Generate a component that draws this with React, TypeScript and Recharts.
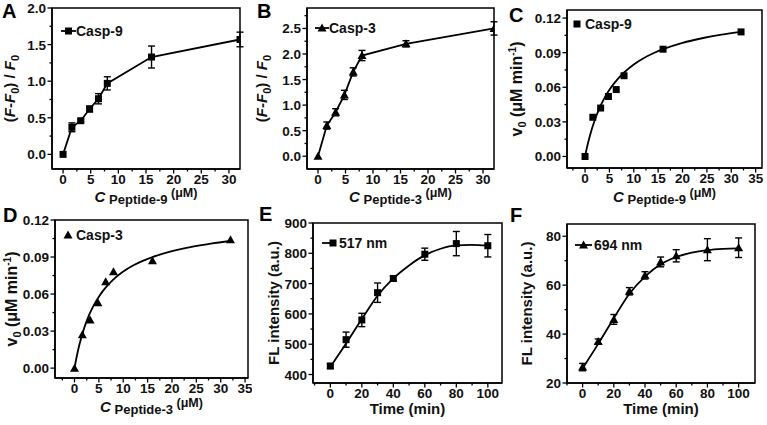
import React from 'react'
import { ComposedChart, Scatter, Line, XAxis, YAxis, ErrorBar, Label, ReferenceArea } from 'recharts'

// peptide concentrations (μM), shared by A-D
const conc = [0, 1.6, 3.2, 4.8, 6.4, 8, 16, 32]

// A: Casp-9 response
const ratio9 = [0, 0.37, 0.46, 0.62, 0.76, 0.97, 1.33, 1.57]
const ratio9Err = [0, 0.06, 0.02, 0.04, 0.07, 0.09, 0.15, 0.1]

// B: Casp-3 response
const ratio3 = [0, 0.6, 0.86, 1.2, 1.65, 1.97, 2.2, 2.5]
const ratio3Err = [0, 0.07, 0.07, 0.09, 0.08, 0.1, 0.06, 0.13]

// C / D: initial rates + fitted curves
const rate9 = [0, 0.034, 0.042, 0.052, 0.058, 0.07, 0.093, 0.108]
const rate3 = [0, 0.027, 0.039, 0.053, 0.07, 0.078, 0.087, 0.104]
const fitConc = [0, 0.5, 1, 2, 3, 4, 5, 6, 8, 10, 12, 14, 16, 20, 24, 28, 32]
const fit9 = [0, 0.0097, 0.018, 0.0316, 0.0422, 0.0508, 0.0578, 0.0636, 0.0728, 0.0798, 0.0852, 0.0895, 0.093, 0.0985, 0.1025, 0.1056, 0.108]
const fit3 = [0, 0.0102, 0.0189, 0.0326, 0.0431, 0.0513, 0.0579, 0.0634, 0.0719, 0.0782, 0.0831, 0.0869, 0.09, 0.0948, 0.0983, 0.1009, 0.103]

// E: 517 nm over time
const timeE = [0, 10, 20, 30, 40, 60, 80, 100]
const fl517 = [428, 515, 580, 670, 717, 797, 832, 825]
const fl517Err = [8, 25, 22, 32, 8, 20, 40, 37]
const fitTime = [0, 10, 20, 30, 40, 50, 60, 70, 80, 90, 100]
const fit517 = [425, 502, 583, 660, 717, 760, 794, 815, 826, 828, 825]

// F: 694 nm over time
const timeF = [0, 10, 20, 30, 40, 50, 60, 80, 100]
const fl694 = [26.5, 37, 46, 57.5, 64, 69.5, 72, 74.5, 75.3]
const fl694Err = [1.5, 1, 2, 1.5, 1.5, 2, 2.5, 4.5, 4]
const fit694 = [26, 36, 46.5, 56.5, 63.5, 68.5, 71.5, 73.3, 74.3, 74.8, 75]

// tick values
const concTicks = [0, 5, 10, 15, 20, 25, 30]
const concMinor = [2.5, 7.5, 12.5, 17.5, 22.5, 27.5]
const concTicks35 = [0, 5, 10, 15, 20, 25, 30, 35]
const concMinor35 = [-2.5, 2.5, 7.5, 12.5, 17.5, 22.5, 27.5, 32.5]
const ratioTicksA = [0, 0.5, 1, 1.5, 2]
const ratioMinorA = [0.25, 0.75, 1.25, 1.75]
const ratioTicksB = [0, 0.5, 1, 1.5, 2, 2.5]
const ratioMinorB = [0.25, 0.75, 1.25, 1.75, 2.25, 2.75]
const rateTicks = [0, 0.03, 0.06, 0.09, 0.12]
const rateMinor = [0.015, 0.045, 0.075, 0.105]
const timeTicks = [0, 20, 40, 60, 80, 100]
const timeMinor = [-10, 10, 30, 50, 70, 90]
const flTicksE = [400, 500, 600, 700, 800, 900]
const flMinorE = [450, 550, 650, 750, 850]
const flTicksF = [20, 40, 60, 80]
const flMinorF = [30, 50, 70]

const FONT = '"Liberation Sans", Arial, sans-serif'
const tickStyle = { fontFamily: FONT, fontWeight: 700, fontSize: 13.5, fill: '#111' }
const titleStyle = { fontFamily: FONT, fontWeight: 700, fontSize: 15, fill: '#111' }

const zip = (xs: number[], ys: number[], es?: number[]) =>
  xs.map((x, i) => ({ x, y: ys[i], e: es ? es[i] : 0 }))

const Square = ({ cx, cy }: any) => <rect x={cx - 3.5} y={cy - 3.5} width={7} height={7} fill="#000" />
const Triangle = ({ cx, cy }: any) => (
  <polygon points={`${cx},${cy - 4.5} ${cx - 4.5},${cy + 3.5} ${cx + 4.5},${cy + 3.5}`} fill="#000" />
)

function BottomTick({ x, y, payload, majors }: any) {
  const major = majors.includes(payload.value)
  return (
    <g>
      <line x1={x} x2={x} y1={y} y2={y + (major ? 4.5 : 2.5)} stroke="#000" strokeWidth={1.3} />
      {major && (
        <text x={x} y={y + 14.5} textAnchor="middle" style={tickStyle}>
          {payload.value}
        </text>
      )}
    </g>
  )
}

function LeftTick({ x, y, payload, majors, digits }: any) {
  const major = majors.includes(payload.value)
  return (
    <g>
      <line x1={x} x2={x - (major ? 4.5 : 2.5)} y1={y} y2={y} stroke="#000" strokeWidth={1.3} />
      {major && (
        <text x={x - 6} y={y + 5} textAnchor="end" style={tickStyle}>
          {Number(payload.value).toFixed(digits)}
        </text>
      )}
    </g>
  )
}

const ML = 62
const MT = 14
const MR = 4
const MB = 48

interface PanelProps {
  box: { l: number; t: number; r: number; b: number }
  xDomain: [number, number]
  yDomain: [number, number]
  xMajor: number[]
  xMinor: number[]
  yMajor: number[]
  yMinor: number[]
  yDigits: number
  points: { x: number; y: number; e: number }[]
  curve: { x: number; y: number }[]
  marker: 'square' | 'triangle'
  curveType: 'linear' | 'monotone'
  errors: boolean
  xTitle: React.ReactNode
  yTitle: React.ReactNode
  yGap: number
  xGap: number
  yTitleSize?: number
}

function Panel(p: PanelProps) {
  const w = p.box.r - p.box.l
  const h = p.box.b - p.box.t
  const shape = p.marker === 'square' ? Square : Triangle
  const sortNum = (a: number, b: number) => a - b
  return (
    <div style={{ position: 'absolute', left: p.box.l - ML, top: p.box.t - MT }}>
      <ComposedChart width={w + ML + MR} height={h + MT + MB} margin={{ top: MT, right: MR, left: 0, bottom: 0 }}>
        <XAxis
          type="number"
          dataKey="x"
          domain={p.xDomain}
          allowDataOverflow
          ticks={[...p.xMajor, ...p.xMinor].sort(sortNum)}
          interval={0}
          height={MB}
          tickSize={0}
          tickMargin={0}
          tickLine={false}
          axisLine={{ stroke: '#000', strokeWidth: 1.5 }}
          tick={(tp: any) => <BottomTick {...tp} majors={p.xMajor} />}
        >
          <Label
            content={(lp: any) => {
              const vb = lp.viewBox
              return (
                <text x={vb.x + vb.width / 2} y={vb.y + p.xGap} textAnchor="middle" style={titleStyle}>
                  {p.xTitle}
                </text>
              )
            }}
          />
        </XAxis>
        <YAxis
          type="number"
          domain={p.yDomain}
          allowDataOverflow
          ticks={[...p.yMajor, ...p.yMinor].sort(sortNum)}
          interval={0}
          width={ML}
          tickSize={0}
          tickMargin={0}
          tickLine={false}
          axisLine={{ stroke: '#000', strokeWidth: 1.5 }}
          tick={(tp: any) => <LeftTick {...tp} majors={p.yMajor} digits={p.yDigits} />}
        >
          <Label
            content={(lp: any) => {
              const vb = lp.viewBox
              const cx = vb.x + vb.width - p.yGap + 5
              const cy = vb.y + vb.height / 2
              return (
                <text
                  x={cx}
                  y={cy}
                  transform={`rotate(-90 ${cx} ${cy})`}
                  textAnchor="middle"
                  style={{ ...titleStyle, fontSize: p.yTitleSize ?? 15 }}
                >
                  {p.yTitle}
                </text>
              )
            }}
          />
        </YAxis>
        <ReferenceArea
          x1={p.xDomain[0]}
          x2={p.xDomain[1]}
          y1={p.yDomain[0]}
          y2={p.yDomain[1]}
          fill="none"
          fillOpacity={0}
          stroke="#000"
          strokeWidth={1.5}
        />
        <Line
          data={p.curve}
          dataKey="y"
          type={p.curveType}
          stroke="#000"
          strokeWidth={1.8}
          dot={false}
          activeDot={false}
          isAnimationActive={false}
        />
        <Scatter data={p.points} dataKey="y" shape={shape} isAnimationActive={false}>
          {p.errors && <ErrorBar dataKey="e" direction="y" width={3.5} stroke="#000" strokeWidth={1.4} />}
        </Scatter>
      </ComposedChart>
    </div>
  )
}

const ratioTitle = (
  <>
    (<tspan fontStyle="italic">F</tspan>-<tspan fontStyle="italic">F</tspan>
    <tspan fontSize={11} dy={4}>0</tspan>
    <tspan dy={-4}>) / </tspan>
    <tspan fontStyle="italic">F</tspan>
    <tspan fontSize={11} dy={4}>0</tspan>
  </>
)

const rateTitle = (
  <>
    v<tspan fontSize={11} dy={4}>0</tspan>
    <tspan dy={-4}> (μM min</tspan>
    <tspan fontSize={10} dy={-6}>-1</tspan>
    <tspan dy={6}>)</tspan>
  </>
)

const concTitle = (n: string) => (
  <>
    <tspan fontStyle="italic" fontSize={15}>C</tspan>
    <tspan fontSize={13} dy={2}> Peptide-{n}</tspan>
    <tspan fontSize={12.5} dy={-7}> (μM)</tspan>
  </>
)

function LegendMark({ x1, x2, mx, y, marker, tx, label }: any) {
  return (
    <g>
      {x1 !== undefined && <line x1={x1} x2={x2} y1={y} y2={y} stroke="#000" strokeWidth={1.8} />}
      {marker === 'square' ? <Square cx={mx} cy={y} /> : <Triangle cx={mx} cy={y} />}
      <text x={tx} y={y + 5} style={{ ...titleStyle, fontSize: 14 }}>
        {label}
      </text>
    </g>
  )
}

const letterStyle = { fontFamily: FONT, fontWeight: 700, fontSize: 20, fill: '#000' }

export default function App() {
  return (
    <div style={{ position: 'absolute', left: 0, top: 0, width: 767, height: 425, background: '#fff', overflow: 'hidden' }}>
      <Panel
        box={{ l: 52, t: 8, r: 240, b: 169 }}
        xDomain={[-2, 32]}
        yDomain={[-0.2, 2]}
        xMajor={concTicks}
        xMinor={concMinor}
        yMajor={ratioTicksA}
        yMinor={ratioMinorA}
        yDigits={1}
        points={zip(conc, ratio9, ratio9Err)}
        curve={zip(conc, ratio9)}
        marker="square"
        curveType="linear"
        errors
        xTitle={concTitle('9')}
        yTitle={ratioTitle}
        yGap={42}
        xGap={33}
      />
      <Panel
        box={{ l: 307, t: 8, r: 494, b: 169 }}
        xDomain={[-2, 32]}
        yDomain={[-0.25, 2.9]}
        xMajor={concTicks}
        xMinor={concMinor}
        yMajor={ratioTicksB}
        yMinor={ratioMinorB}
        yDigits={1}
        points={zip(conc, ratio3, ratio3Err)}
        curve={zip(conc, ratio3)}
        marker="triangle"
        curveType="linear"
        errors
        xTitle={concTitle('3')}
        yTitle={ratioTitle}
        yGap={45}
        xGap={33}
      />
      <Panel
        box={{ l: 567, t: 10, r: 762, b: 168 }}
        xDomain={[-3.7, 36.3]}
        yDomain={[-0.01, 0.127]}
        xMajor={concTicks35}
        xMinor={concMinor35}
        yMajor={rateTicks}
        yMinor={rateMinor}
        yDigits={2}
        points={zip(conc, rate9)}
        curve={zip(fitConc, fit9)}
        marker="square"
        curveType="monotone"
        errors={false}
        xTitle={concTitle('9')}
        yTitle={rateTitle}
        yTitleSize={16}
        yGap={50}
        xGap={34}
      />
      <Panel
        box={{ l: 55, t: 220, r: 248, b: 378 }}
        xDomain={[-4, 35.6]}
        yDomain={[-0.008, 0.12]}
        xMajor={concTicks35}
        xMinor={concMinor35}
        yMajor={rateTicks}
        yMinor={rateMinor}
        yDigits={2}
        points={zip(conc, rate3)}
        curve={zip(fitConc, fit3)}
        marker="triangle"
        curveType="monotone"
        errors={false}
        xTitle={concTitle('3')}
        yTitle={rateTitle}
        yTitleSize={16}
        yGap={43}
        xGap={34}
      />
      <Panel
        box={{ l: 313, t: 223, r: 502, b: 383 }}
        xDomain={[-11, 109]}
        yDomain={[372, 900]}
        xMajor={timeTicks}
        xMinor={timeMinor}
        yMajor={flTicksE}
        yMinor={flMinorE}
        yDigits={0}
        points={zip(timeE, fl517, fl517Err)}
        curve={zip(fitTime, fit517)}
        marker="square"
        curveType="monotone"
        errors
        xTitle="Time (min)"
        yTitle="FL intensity (a.u.)"
        yGap={39}
        xGap={30.5}
      />
      <Panel
        box={{ l: 567, t: 224, r: 755, b: 383 }}
        xDomain={[-10, 110.5]}
        yDomain={[20, 85]}
        xMajor={timeTicks}
        xMinor={timeMinor}
        yMajor={flTicksF}
        yMinor={flMinorF}
        yDigits={0}
        points={zip(timeF, fl694, fl694Err)}
        curve={zip(fitTime, fit694)}
        marker="triangle"
        curveType="monotone"
        errors
        xTitle="Time (min)"
        yTitle="FL intensity (a.u.)"
        yGap={40}
        xGap={30.5}
      />
      <svg width={767} height={425} style={{ position: 'absolute', left: 0, top: 0, pointerEvents: 'none' }}>
        <text x={2} y={18} style={letterStyle}>A</text>
        <text x={257} y={18} style={letterStyle}>B</text>
        <text x={509} y={22} style={letterStyle}>C</text>
        <text x={3} y={222} style={letterStyle}>D</text>
        <text x={259} y={221} style={letterStyle}>E</text>
        <text x={510} y={222} style={letterStyle}>F</text>
        <LegendMark x1={61} x2={76} mx={68.5} y={31} marker="square" tx={76} label="Casp-9" />
        <LegendMark x1={315} x2={329} mx={322} y={28} marker="triangle" tx={329} label="Casp-3" />
        <LegendMark mx={577} y={24} marker="square" tx={585} label="Casp-9" />
        <LegendMark mx={68} y={235} marker="triangle" tx={76} label="Casp-3" />
        <LegendMark x1={322} x2={334} mx={333} y={243} marker="square" tx={339} label="517 nm" />
        <LegendMark x1={575} x2={592} mx={583.5} y={245} marker="triangle" tx={594} label="694 nm" />
      </svg>
    </div>
  )
}
